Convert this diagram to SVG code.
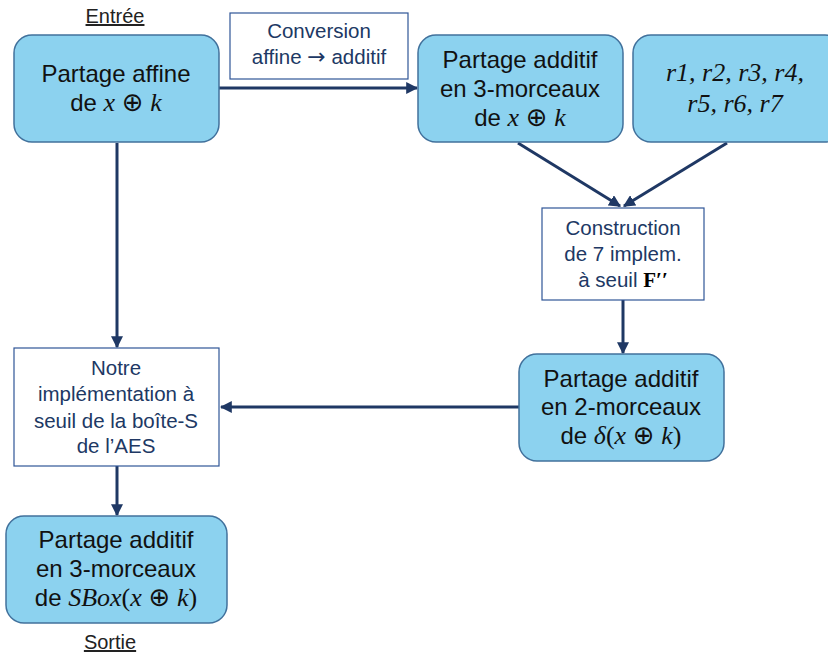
<svg xmlns="http://www.w3.org/2000/svg" width="828" height="658" viewBox="0 0 828 658">
<style>
.blue{fill:#8CD2EF;stroke:#41719C;stroke-width:1.5}
.white{fill:#fff;stroke:#2F5597;stroke-width:1.2}
.t{font-family:"Liberation Sans",Arial,sans-serif;font-size:24px;fill:#111;text-anchor:middle}
.s{font-family:"Liberation Sans",Arial,sans-serif;font-size:20.5px;fill:#203864;text-anchor:middle}
.m{font-family:"Liberation Serif","DejaVu Serif",serif;font-style:italic;font-size:26px}
.op{font-family:"DejaVu Sans",sans-serif;font-size:26px}
.c{stroke:#1F3864;stroke-width:3;fill:none;marker-end:url(#ah)}
.lbl{font-family:"Liberation Sans",Arial,sans-serif;font-size:20px;fill:#222;text-anchor:middle;text-decoration:underline}
</style>
<defs>
<marker id="ah" viewBox="0 0 10 10" refX="9" refY="5" markerWidth="4" markerHeight="4" orient="auto" markerUnits="strokeWidth">
<path d="M0,0 L10,5 L0,10 z" fill="#1F3864"/>
</marker>
</defs>
<text class="lbl" x="115" y="23">Entrée</text>
<text class="lbl" x="110" y="649">Sortie</text>
<g id="connectors">
<line class="c" x1="219" y1="88" x2="417" y2="88"/>
<line class="c" x1="518" y1="143" x2="620" y2="206"/>
<line class="c" x1="727" y1="143" x2="624" y2="206"/>
<line class="c" x1="623" y1="300" x2="623" y2="353"/>
<line class="c" x1="519" y1="407" x2="221" y2="407"/>
<line class="c" x1="117" y1="143" x2="117" y2="347"/>
<line class="c" x1="117" y1="466" x2="117" y2="515"/>
</g>
<g id="n1">
<rect class="blue" x="14" y="35" width="205" height="107" rx="18"/>
<text class="t" x="116" y="82">Partage affine</text>
<text class="t" x="116" y="111">de <tspan class="m">x</tspan> <tspan class="op">⊕</tspan> <tspan class="m">k</tspan></text>
</g>
<g id="conv">
<rect class="white" x="230" y="13" width="178" height="66"/>
<text class="s" x="319" y="38">Conversion</text>
<text class="s" x="319" y="64">affine <tspan font-family="DejaVu Sans,sans-serif" font-size="22">→</tspan> additif</text>
</g>
<g id="n2">
<rect class="blue" x="418" y="35" width="205" height="107" rx="18"/>
<text class="t" x="520" y="68">Partage additif</text>
<text class="t" x="520" y="97">en 3-morceaux</text>
<text class="t" x="520" y="126">de <tspan class="m">x</tspan> <tspan class="op">⊕</tspan> <tspan class="m">k</tspan></text>
</g>
<g id="n3">
<rect class="blue" x="633" y="35" width="210" height="107" rx="18"/>
<text class="t m" x="735" y="81">r1, r2, r3, r4,</text>
<text class="t m" x="735" y="112">r5, r6, r7</text>
</g>
<g id="constr">
<rect class="white" x="542" y="208" width="162" height="92"/>
<text class="s" x="623" y="235">Construction</text>
<text class="s" x="623" y="261">de 7 implem.</text>
<text class="s" x="623" y="287">à seuil <tspan font-family="Liberation Serif,serif" font-weight="bold" fill="#000" font-size="21">F′′</tspan></text>
</g>
<g id="n4">
<rect class="blue" x="519" y="354" width="205" height="107" rx="18"/>
<text class="t" x="621" y="387">Partage additif</text>
<text class="t" x="621" y="415">en 2-morceaux</text>
<text class="t" x="621" y="444">de <tspan class="m">δ</tspan><tspan font-family="Liberation Serif,serif" font-size="26">(</tspan><tspan class="m">x</tspan> <tspan class="op">⊕</tspan> <tspan class="m">k</tspan><tspan font-family="Liberation Serif,serif" font-size="26">)</tspan></text>
</g>
<g id="notre">
<rect class="white" x="14" y="348" width="205" height="118"/>
<text class="s" x="116" y="375">Notre</text>
<text class="s" x="116" y="401">implémentation à</text>
<text class="s" x="116" y="428">seuil de la boîte-S</text>
<text class="s" x="116" y="453">de l’AES</text>
</g>
<g id="n5">
<rect class="blue" x="6" y="516" width="221" height="107" rx="18"/>
<text class="t" x="116" y="548">Partage additif</text>
<text class="t" x="116" y="577">en 3-morceaux</text>
<text class="t" x="116" y="606">de <tspan class="m">SBox</tspan><tspan font-family="Liberation Serif,serif" font-size="26">(</tspan><tspan class="m">x</tspan> <tspan class="op">⊕</tspan> <tspan class="m">k</tspan><tspan font-family="Liberation Serif,serif" font-size="26">)</tspan></text>
</g>
</svg>
